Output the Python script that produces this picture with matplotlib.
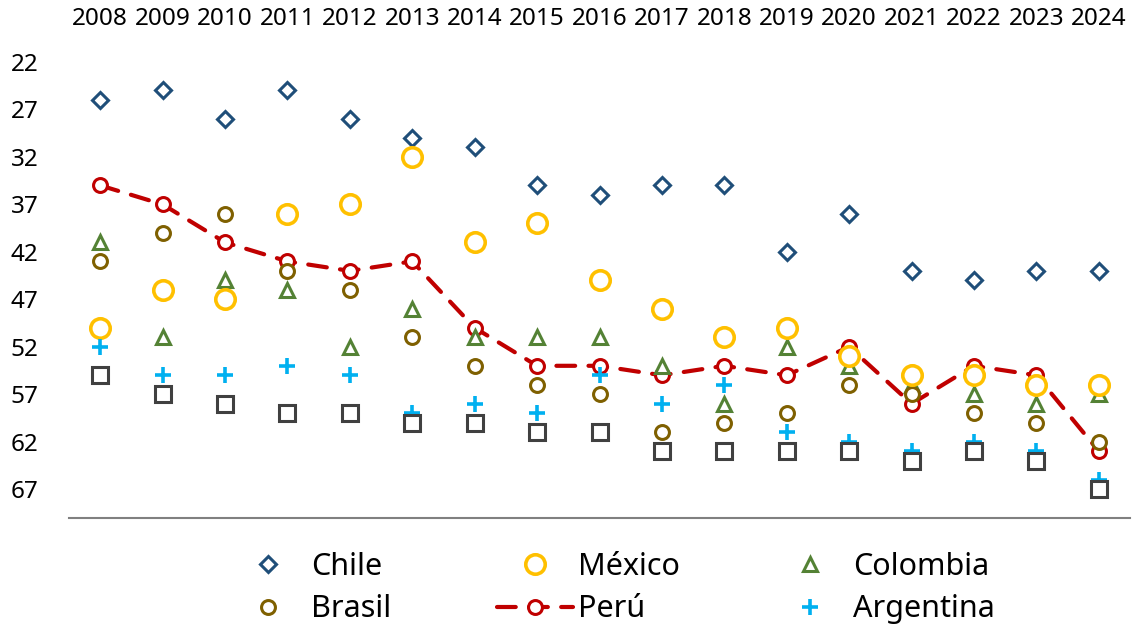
import matplotlib
matplotlib.use("Agg")
import matplotlib.pyplot as plt

years = [str(y) for y in range(2008, 2025)]
chile = [26, 25, 28, 25, 28, 30, 31, 35, 36, 35, 35, 42, 38, 44, 45, 44, 44]
mexico = [50, 46, 47, 38, 37, 32, 41, 39, 45, 48, 51, 50, 53, 55, 55, 56, 56]
colombia = [41, 51, 45, 46, 52, 48, 51, 51, 51, 54, 58, 52, 54, 56, 57, 58, 57]
brasil = [43, 40, 38, 44, 46, 51, 54, 56, 57, 61, 60, 59, 56, 57, 59, 60, 62]
peru = [35, 37, 41, 43, 44, 43, 50, 54, 54, 55, 54, 55, 52, 58, 54, 55, 63]
argentina = [52, 55, 55, 54, 55, 59, 58, 59, 55, 58, 56, 61, 62, 63, 62, 63, 66]
otro = [55, 57, 58, 59, 59, 60, 60, 61, 61, 63, 63, 63, 63, 64, 63, 64, 67]
yticks = list(range(22, 68, 5))

plt.rcParams['font.family'] = ['Noto Sans', 'DejaVu Sans']

W, H = 1136, 626
fig = plt.figure(figsize=(W / 100, H / 100), dpi=100)
ax = fig.add_axes([69 / W, 1 - 517.7 / H, (1130 - 69) / W, (517.7 - 62) / H])
x = list(range(len(years)))

mew = 2.2
h_peru, = ax.plot(x, peru, linestyle=(0, (4.5, 3.2)), color='#C00000', lw=3.0,
                  dash_capstyle='round', marker='o', ms=10, mfc='white', mec='#C00000',
                  mew=mew, label='Perú', zorder=2)
h_chile, = ax.plot(x, chile, ls='none', marker='D', ms=8.5, mfc='white', mec='#1F4E79',
                   mew=mew, label='Chile', zorder=3)
h_col, = ax.plot(x, colombia, ls='none', marker='^', ms=10.5, mfc='white', mec='#548235',
                 mew=mew, label='Colombia', zorder=3)
h_bra, = ax.plot(x, brasil, ls='none', marker='o', ms=10, mfc='white', mec='#7F6000',
                 mew=mew, label='Brasil', zorder=4)
h_mex, = ax.plot(x, mexico, ls='none', marker='o', ms=14, mfc='white', mec='#FFC000',
                 mew=2.6, label='México', zorder=4)
h_arg, = ax.plot(x, argentina, ls='none', marker='+', ms=11, mec='#00B0F0',
                 mew=2.6, label='Argentina', zorder=5)
ax.plot(x, otro, ls='none', marker='s', ms=11, mfc='white', mec='#404040',
        mew=mew, zorder=6)

ax.set_xlim(-0.5, len(years) - 0.5)
ax.set_ylim(70, 22)
ax.set_yticks(yticks)
ax.set_yticklabels([str(t) for t in yticks])
ax.set_xticks(x)
ax.set_xticklabels(years)
ax.xaxis.tick_top()
ax.tick_params(axis='x', length=0, pad=22, labelsize=17.5)
ax.tick_params(axis='y', length=0, pad=22, labelsize=17.5)
for s in ['left', 'right', 'top']:
    ax.spines[s].set_visible(False)
ax.spines['bottom'].set_color('#808080')
ax.spines['bottom'].set_linewidth(1.5)

columns = [(h_chile, h_bra, 230), (h_mex, h_peru, 497), (h_col, h_arg, 772)]
for h1, h2, left in columns:
    leg = fig.legend(handles=[h1, h2], labels=[h1.get_label(), h2.get_label()],
                     ncol=1, frameon=False, fontsize=22, loc='center left',
                     bbox_to_anchor=(left / W, 1 - 588 / H), handlelength=2.5,
                     handletextpad=0.15, labelspacing=0.42,
                     borderpad=0, borderaxespad=0)

fig.savefig('out.png', dpi=100)
